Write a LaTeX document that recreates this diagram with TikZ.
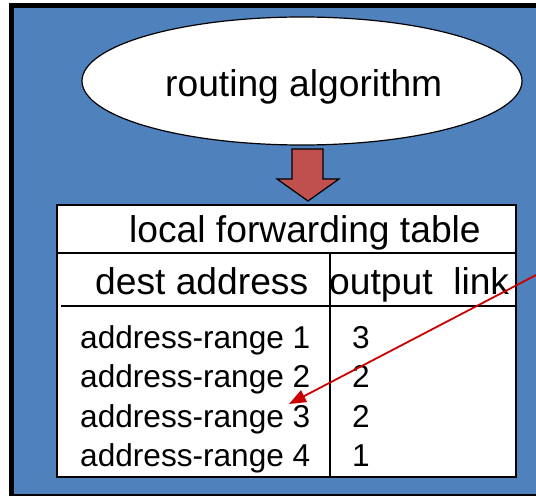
\documentclass[tikz,border=0pt]{standalone}
\usepackage{fontspec}
\setmainfont{Liberation Sans}
\usetikzlibrary{arrows.meta,shapes.geometric}
\definecolor{bgblue}{HTML}{4F81BD}
\definecolor{arrowred}{HTML}{C0504D}
\definecolor{linered}{HTML}{CC0000}
\begin{document}
\begin{tikzpicture}[x=1pt,y=1pt,
  lbl/.style={inner sep=0pt, anchor=base west, text=black},
  big/.style={lbl, font=\fontsize{37.2}{42}\selectfont},
  row/.style={lbl, font=\fontsize{31.6}{36}\selectfont},
  rule/.style={line width=1.6pt, draw=black}]
\useasboundingbox (0,0) rectangle (536,496);
\fill[white] (0,0) rectangle (536,496);
% frame
\fill[black] (9,0) rectangle (536,493);
\fill[bgblue] (14,2) rectangle (536,488);
% ellipse
\node[draw=black, line width=1.2pt, fill=white, ellipse, minimum width=440pt, minimum height=128pt, inner sep=0pt] (alg) at (302,415) {};
\node[big] (algtxt) at (165,399) {routing algorithm};
% big arrow
\draw[fill=arrowred, draw=black, line width=1.2pt, line join=miter]
  (292,347) -- (323,347) -- (323,317) -- (339,317) -- (308,295) -- (277,317) -- (292,317) -- cycle;
% table
\node[draw=black, line width=1.6pt, fill=white, minimum width=459pt, minimum height=272pt, inner sep=0pt, anchor=south west] (tbl) at (56,18) {};
\draw[rule] (56,243) -- (515,243);
\draw[rule] (61,190) -- (515,190);
\draw[rule] (330,243) -- (330,18);
\node[big] (title) at (129,253) {local forwarding table};
\node[big] (dest) at (95,201) {dest address};
\node[big] (outl) at (329,201) {output\ \ link};
\node[row] (r1) at (80,147) {address-range 1};
\node[row] (r2) at (80,108) {address-range 2};
\node[row] (r3) at (80,69) {address-range 3};
\node[row] (r4) at (80,30) {address-range 4};
\node[row] (o1) at (352,147) {3};
\node[row] (o2) at (352,108) {2};
\node[row] (o3) at (352,69) {2};
\node[row] (o4) at (352,30) {1};
% red pointer
\coordinate (pstart) at (540,223);
\coordinate (ptip) at (289,92);
\draw[linered, line width=1.8pt, -{Triangle[length=17pt,width=13pt]}] (pstart) -- (ptip);
\end{tikzpicture}
\end{document}
